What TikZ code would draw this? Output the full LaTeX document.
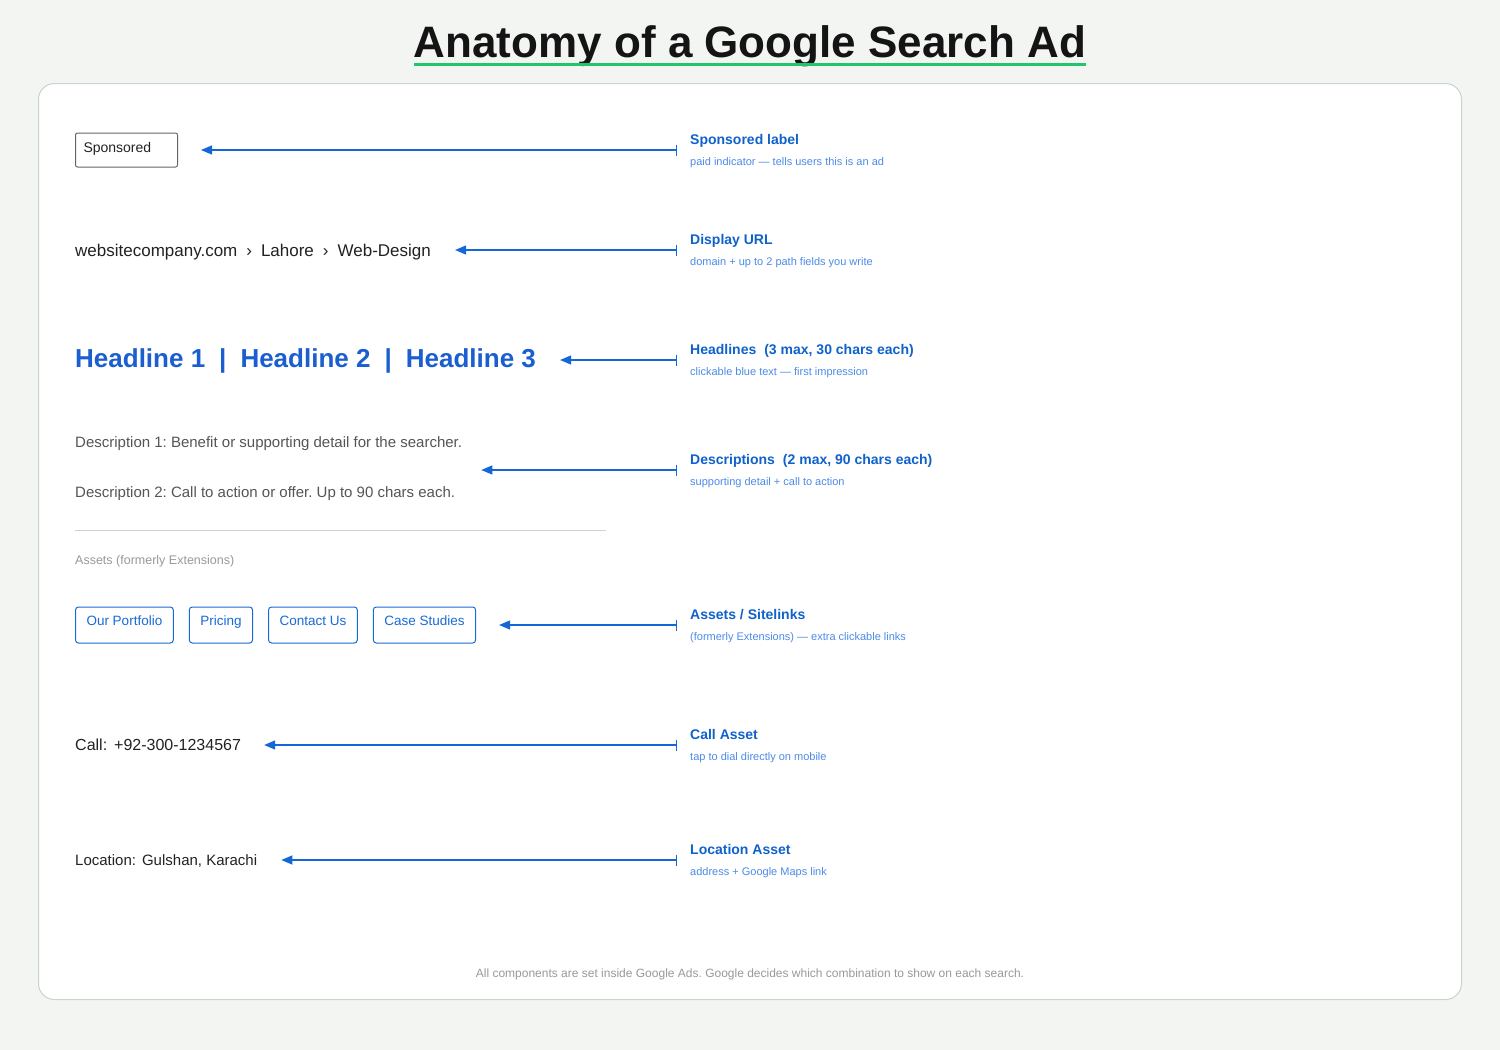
\documentclass[tikz,border=0pt]{standalone}
\usepackage{fontspec}
\setmainfont{Liberation Sans}
\usetikzlibrary{arrows.meta,calc}
\frenchspacing
\definecolor{bgc}{HTML}{F3F5F2}
\definecolor{cardline}{HTML}{C9D3CB}
\definecolor{ulgreen}{HTML}{22C46C}
\definecolor{arrowblue}{HTML}{1566D6}
\definecolor{anntitlec}{HTML}{0F62CC}
\definecolor{annsubc}{HTML}{4C8BE8}
\definecolor{headc}{HTML}{1A5ED0}
\definecolor{linkc}{HTML}{1A6AD8}
\definecolor{darkc}{HTML}{222222}
\definecolor{descc}{HTML}{555555}
\definecolor{lightc}{HTML}{999999}
\definecolor{sepc}{HTML}{D2D2D2}
\definecolor{boxc}{HTML}{666666}
\newcommand{\fsz}[1]{\fontsize{#1}{#1}\selectfont}
\begin{document}
\begin{tikzpicture}[x=1pt,y=-1pt,
  txt/.style={inner sep=0pt, anchor=base west},
  anntitle/.style={txt, font=\bfseries\fsz{14}, text=anntitlec},
  annsub/.style={txt, font=\fsz{11}, text=annsubc},
  ptr/.style={draw=arrowblue, line width=1.2pt, {Triangle[length=11pt,width=9pt]}-{Bar[width=11pt]}},
  sitelink/.style={draw=linkc, line width=1pt, rounded corners=3pt, text=linkc, font=\fsz{13.5},
    inner xsep=11pt, inner ysep=0pt, text height=18pt, text depth=18pt, anchor=base west},
]
\useasboundingbox (0,0) rectangle (1500,1050);
\fill[bgc] (0,0) rectangle (1500,1050);
\draw[cardline, line width=1pt, fill=white, rounded corners=16pt] (38.5,83.5) rectangle (1461.5,999.5);

% title
\node[txt, anchor=base, font=\bfseries\fsz{44}, text=black!92] (title) at (750,57) {Anatomy of a Google Search Ad};
\draw[ulgreen, line width=3pt] ($(title.base west)+(0,7)$) -- ($(title.base east)+(0,7)$);

% left: ad mock
\node[draw=boxc, line width=1pt, rounded corners=2pt, font=\fsz{14}, text=darkc, anchor=base west,
  inner xsep=8pt, inner ysep=0pt, text height=19pt, text depth=15pt, text width=86pt, align=left] (spons) at (75,152) {Sponsored};
\node[txt, font=\fsz{17}, text=darkc] (url) at (75,256) {websitecompany.com\hspace{9pt}›\hspace{9pt}Lahore\hspace{9pt}›\hspace{9pt}Web-Design};
\node[txt, font=\bfseries\fsz{26}, text=headc] (head) at (75,367) {Headline 1\hspace{14pt}|\hspace{14pt}Headline 2\hspace{14pt}|\hspace{14pt}Headline 3};
\node[txt, font=\fsz{15}, text=descc] (d1) at (75,447) {Description 1: Benefit or supporting detail for the searcher.};
\node[txt, font=\fsz{15}, text=descc] (d2) at (75,497) {Description 2: Call to action or offer. Up to 90 chars each.};
\coordinate (sepL) at (75,530.5);
\coordinate (sepR) at (606,530.5);
\draw[sepc, line width=1pt] (sepL) -- (sepR);
\node[txt, font=\fsz{12.5}, text=lightc] (assets) at (75,564) {Assets (formerly Extensions)};
\node[sitelink] (l1) at (75,625) {Our Portfolio};
\node[sitelink] (l2) at ($(l1.base east)+(15,0)$) {Pricing};
\node[sitelink] (l3) at ($(l2.base east)+(15,0)$) {Contact Us};
\node[sitelink] (l4) at ($(l3.base east)+(15,0)$) {Case Studies};
\node[txt, font=\fsz{16}, text=darkc] (call) at (75,750) {Call:\hspace{7pt}+92-300-1234567};
\node[txt, font=\fsz{15}, text=darkc] (loc) at (75,865) {Location:\hspace{6pt}Gulshan, Karachi};

% right: annotations
\node[anntitle] (t1) at (690,144) {Sponsored label};
\node[annsub] (s1) at (690,165) {paid indicator — tells users this is an ad};
\node[anntitle] (t2) at (690,244) {Display URL};
\node[annsub] (s2) at (690,265) {domain + up to 2 path fields you write};
\node[anntitle] (t3) at (690,354) {Headlines\hspace{8pt}(3 max, 30 chars each)};
\node[annsub] (s3) at (690,375) {clickable blue text — first impression};
\node[anntitle] (t4) at (690,464) {Descriptions\hspace{8pt}(2 max, 90 chars each)};
\node[annsub] (s4) at (690,485) {supporting detail + call to action};
\node[anntitle] (t5) at (690,619) {Assets / Sitelinks};
\node[annsub] (s5) at (690,640) {(formerly Extensions) — extra clickable links};
\node[anntitle] (t6) at (690,739) {Call Asset};
\node[annsub] (s6) at (690,760) {tap to dial directly on mobile};
\node[anntitle] (t7) at (690,854) {Location Asset};
\node[annsub] (s7) at (690,875) {address + Google Maps link};

% connector ends
\coordinate (e1) at (677,150);
\coordinate (e2) at (677,250);
\coordinate (e3) at (677,360);
\coordinate (e4) at (677,470);
\coordinate (e5) at (677,625);
\coordinate (e6) at (677,745);
\coordinate (e7) at (677,860);
\coordinate (p1) at ($(spons.east)+(23,0)$);
\coordinate (p2) at ($(url.east)+(24,0)$);
\coordinate (p3) at ($(head.east)+(24,0)$);
\coordinate (p4) at ($(d1.east)+(19,0)$);
\coordinate (p5) at ($(l4.east)+(23,0)$);
\coordinate (p6) at ($(call.east)+(23,0)$);
\coordinate (p7) at ($(loc.east)+(24,0)$);
\draw[ptr] (p1 |- e1) -- (e1);
\draw[ptr] (p2 |- e2) -- (e2);
\draw[ptr] (p3 |- e3) -- (e3);
\draw[ptr] (p4 |- e4) -- (e4);
\draw[ptr] (p5 |- e5) -- (e5);
\draw[ptr] (p6 |- e6) -- (e6);
\draw[ptr] (p7 |- e7) -- (e7);

% footer
\node[txt, anchor=base, font=\fsz{12}, text=lightc] (foot) at (750,977) {All components are set inside Google Ads. Google decides which combination to show on each search.};
\end{tikzpicture}
\end{document}
